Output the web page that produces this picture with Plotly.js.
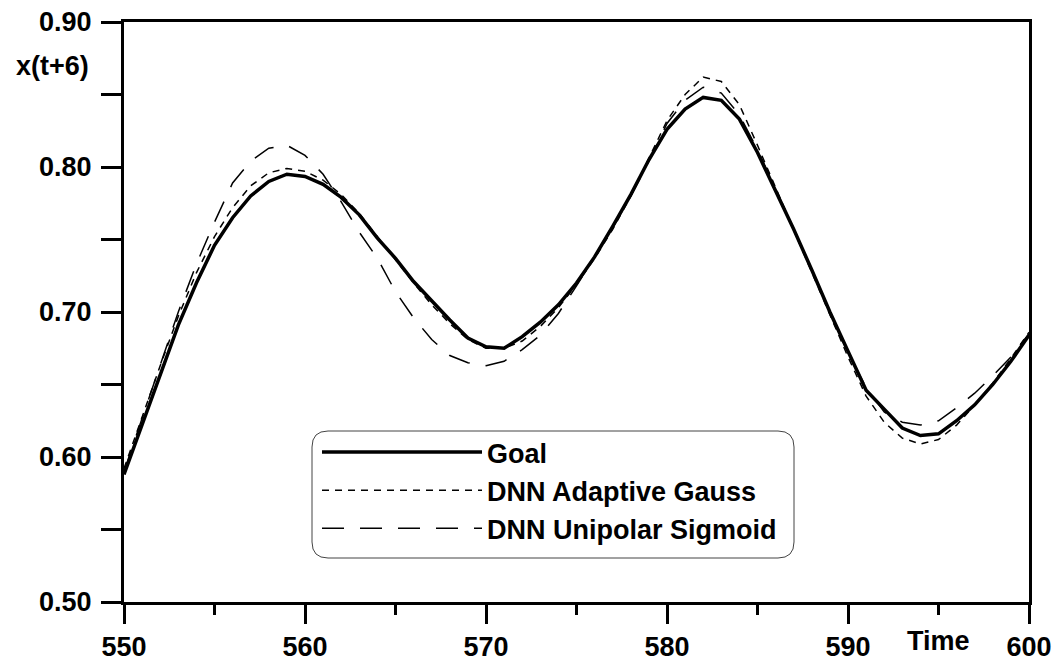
<!DOCTYPE html>
<html>
<head>
<meta charset="utf-8">
<script src="https://cdn.plot.ly/plotly-3.0.1.min.js"></script>
<style>html,body{margin:0;padding:0;background:#fff;}#chart{width:1056px;height:661px;}</style>
</head>
<body>
<div id="chart"></div>
<script>
const time = [550,551,552,553,554,555,556,557,558,559,560,561,562,563,564,565,566,567,568,569,570,571,572,573,574,575,576,577,578,579,580,581,582,583,584,585,586,587,588,589,590,591,592,593,594,595,596,597,598,599,600];

const goal = [0.588,0.622,0.657,0.691,0.720,0.746,0.765,0.780,0.790,0.795,0.7935,0.788,0.779,0.767,0.751,0.737,0.721,0.7075,0.6945,0.682,0.676,0.675,0.683,0.693,0.705,0.720,0.738,0.759,0.781,0.805,0.826,0.840,0.848,0.846,0.833,0.810,0.784,0.757,0.729,0.700,0.673,0.646,0.633,0.620,0.6148,0.616,0.625,0.636,0.650,0.666,0.684];

const gauss = [0.592,0.628,0.663,0.697,0.727,0.752,0.772,0.787,0.796,0.799,0.797,0.791,0.781,0.768,0.752,0.736,0.720,0.705,0.692,0.681,0.675,0.675,0.680,0.690,0.703,0.719,0.737,0.757,0.780,0.806,0.832,0.850,0.862,0.859,0.843,0.815,0.786,0.757,0.728,0.698,0.669,0.642,0.624,0.613,0.609,0.612,0.622,0.636,0.651,0.668,0.686];

const sigmoid = [0.590,0.627,0.664,0.700,0.733,0.762,0.789,0.804,0.813,0.815,0.808,0.795,0.776,0.755,0.737,0.714,0.696,0.681,0.670,0.665,0.663,0.666,0.674,0.684,0.699,0.718,0.738,0.758,0.780,0.804,0.830,0.846,0.855,0.851,0.836,0.812,0.785,0.757,0.729,0.700,0.672,0.648,0.631,0.624,0.622,0.625,0.634,0.644,0.656,0.669,0.685];

const seriesNames = ['Goal','DNN Adaptive Gauss','DNN Unipolar Sigmoid'];
const xTitle = 'Time';
const yTitle = 'x(t+6)';

const FONT = 'Liberation Sans, Arial, Helvetica, sans-serif';
const FS = 27;
const W = 1056, H = 661;
const M = {l:124, r:27, t:22, b:59};
const PW = W - M.l - M.r, PH = H - M.t - M.b;
const fx = px => (px - M.l) / PW;
const fy = py => (H - M.b - py) / PH;

function roundedBox(x0, y0, x1, y1, r) {
  const p = [];
  p.push('M' + fx(x0 + r) + ',' + fy(y0));
  p.push('L' + fx(x1 - r) + ',' + fy(y0));
  p.push('Q' + fx(x1) + ',' + fy(y0) + ' ' + fx(x1) + ',' + fy(y0 + r));
  p.push('L' + fx(x1) + ',' + fy(y1 - r));
  p.push('Q' + fx(x1) + ',' + fy(y1) + ' ' + fx(x1 - r) + ',' + fy(y1));
  p.push('L' + fx(x0 + r) + ',' + fy(y1));
  p.push('Q' + fx(x0) + ',' + fy(y1) + ' ' + fx(x0) + ',' + fy(y1 - r));
  p.push('L' + fx(x0) + ',' + fy(y0 + r));
  p.push('Q' + fx(x0) + ',' + fy(y0) + ' ' + fx(x0 + r) + ',' + fy(y0));
  p.push('Z');
  return p.join(' ');
}

const traces = [
  {x: time, y: goal, name: seriesNames[0], mode: 'lines', legendgroup: 'a',
   line: {color: '#000', width: 3.5, dash: 'solid'}},
  {x: time, y: gauss, name: seriesNames[1], mode: 'lines', legendgroup: 'b',
   line: {color: '#000', width: 1.5, dash: '7px,6px'}},
  {x: time, y: sigmoid, name: seriesNames[2], mode: 'lines', legendgroup: 'c',
   line: {color: '#000', width: 1.5, dash: '22px,16px'}}
];

const axisCommon = {
  showgrid: false, zeroline: false, showline: true, linecolor: '#000', linewidth: 3,
  mirror: true, ticks: 'outside', tickcolor: '#000', tickwidth: 3,
  tickfont: {family: FONT, size: FS, color: '#000', weight: 'bold'}
};

const layout = {
  width: W, height: H,
  margin: M,
  paper_bgcolor: '#fff', plot_bgcolor: '#fff',
  font: {family: FONT, color: '#000'},
  showlegend: true,
  legend: {
    x: fx(317), xanchor: 'left', y: fy(428), yanchor: 'top',
    bgcolor: 'rgba(0,0,0,0)', borderwidth: 0,
    itemwidth: 160, tracegroupgap: 0,
    font: {family: FONT, size: FS, color: '#000', weight: 'bold'}
  },
  xaxis: Object.assign({}, axisCommon, {
    range: [550, 600], dtick: 10, tick0: 550, ticklen: 19, ticklabelstandoff: 0,
    minor: {dtick: 5, ticklen: 10, tickwidth: 3, tickcolor: '#000', ticks: 'outside'}
  }),
  yaxis: Object.assign({}, axisCommon, {
    range: [0.5, 0.9], dtick: 0.1, tick0: 0.5, ticklen: 20, tickformat: '.2f', ticklabelstandoff: 4,
    minor: {dtick: 0.05, ticklen: 20, tickwidth: 3, tickcolor: '#000', ticks: 'outside'}
  }),
  shapes: [{
    type: 'path', xref: 'paper', yref: 'paper',
    path: roundedBox(312, 431, 794, 558, 16),
    line: {color: '#444', width: 1}, fillcolor: 'rgba(0,0,0,0)', layer: 'below'
  }],
  annotations: [
    {text: yTitle, xref: 'paper', yref: 'paper', x: fx(91), y: fy(66),
     xanchor: 'right', yanchor: 'middle', showarrow: false,
     font: {family: FONT, size: FS, color: '#000', weight: 'bold'}},
    {text: xTitle, xref: 'paper', yref: 'paper', x: fx(938), y: fy(641),
     xanchor: 'center', yanchor: 'middle', showarrow: false,
     font: {family: FONT, size: FS, color: '#000', weight: 'bold'}}
  ]
};

Plotly.newPlot('chart', traces, layout, {displayModeBar: false, staticPlot: true});
</script>
</body>
</html>
